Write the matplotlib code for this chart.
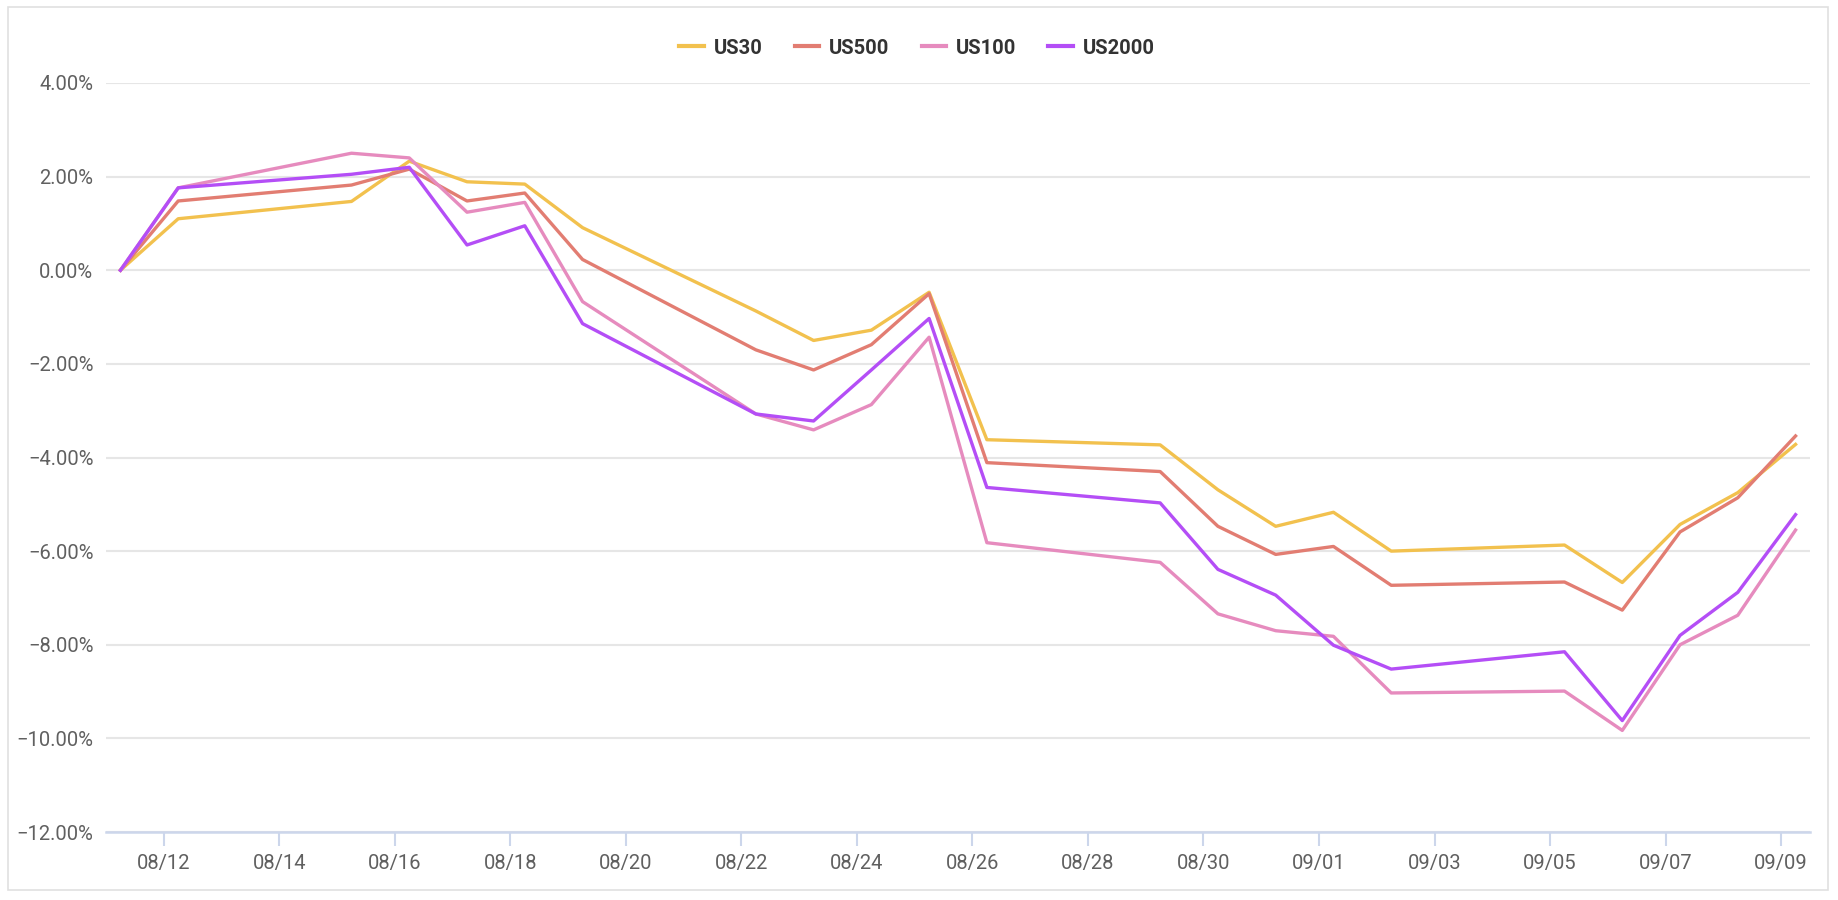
import matplotlib
matplotlib.use("Agg")
import matplotlib.pyplot as plt
import matplotlib.dates as mdates
import matplotlib.ticker as mticker
from matplotlib.patches import Rectangle
import pandas as pd

dates = ["2022-08-11", "2022-08-12", "2022-08-15", "2022-08-16", "2022-08-17", "2022-08-18",
         "2022-08-19", "2022-08-22", "2022-08-23", "2022-08-24", "2022-08-25", "2022-08-26",
         "2022-08-29", "2022-08-30", "2022-08-31", "2022-09-01", "2022-09-02", "2022-09-05",
         "2022-09-06", "2022-09-07", "2022-09-08", "2022-09-09"]

us30 = [0.00, 1.10, 1.47, 2.33, 1.89, 1.84, 0.91, -0.87, -1.50, -1.28, -0.47, -3.62,
        -3.73, -4.69, -5.47, -5.17, -6.00, -5.87, -6.67, -5.43, -4.75, -3.72]
us500 = [0.00, 1.48, 1.82, 2.16, 1.48, 1.65, 0.23, -1.70, -2.13, -1.59, -0.50, -4.11,
         -4.30, -5.47, -6.07, -5.90, -6.73, -6.66, -7.26, -5.59, -4.86, -3.54]
us100 = [0.00, 1.76, 2.50, 2.40, 1.24, 1.45, -0.67, -3.07, -3.41, -2.87, -1.43, -5.82,
         -6.24, -7.34, -7.70, -7.82, -9.03, -8.99, -9.83, -8.00, -7.37, -5.55]
us2000 = [0.00, 1.76, 2.05, 2.20, 0.54, 0.95, -1.14, -3.07, -3.22, -2.13, -1.03, -4.64,
          -4.97, -6.39, -6.94, -8.01, -8.52, -8.15, -9.62, -7.80, -6.88, -5.22]

series_names = ["US30", "US500", "US100", "US2000"]
series_values = [us30, us500, us100, us2000]
colors = ["#f2c14e", "#e27d72", "#e68bbe", "#b44ef6"]

y_ticks = [4, 2, 0, -2, -4, -6, -8, -10, -12]

x = pd.to_datetime(dates) + pd.Timedelta(hours=6)

plt.rcParams["font.family"] = ["Roboto", "DejaVu Sans"]

fig = plt.figure(figsize=(18.38, 9.0), dpi=100)
ax = fig.add_axes([106 / 1838, 1 - 832 / 900, (1810 - 106) / 1838, (832 - 83) / 900])

for name, vals, c in zip(series_names, series_values, colors):
    ax.plot(x, vals, color=c, lw=2.4, label=name, solid_joinstyle="round", zorder=3)

ax.set_ylim(-12, 4)
ax.set_xlim(pd.Timestamp("2022-08-11 00:00"), pd.Timestamp("2022-09-09 12:00"))
ax.set_yticks(y_ticks)
ax.yaxis.set_major_formatter(mticker.FuncFormatter(lambda v, p: f"{v:.2f}%".replace("-", "\u2212")))
ax.xaxis.set_major_locator(mdates.DayLocator(bymonthday=[12, 14, 16, 18, 20, 22, 24, 26, 28, 30, 1, 3, 5, 7, 9]))
ax.xaxis.set_major_formatter(mdates.DateFormatter("%m/%d"))

ax.grid(axis="y", color="#e6e6e6", lw=1.5, zorder=0)
ax.grid(axis="x", visible=False)
for s in ["top", "right", "left"]:
    ax.spines[s].set_visible(False)
ax.spines["bottom"].set_color("#ccd6eb")
ax.spines["bottom"].set_linewidth(1.8)
ax.spines["bottom"].set_zorder(4)

ax.tick_params(axis="y", length=0, pad=9, labelsize=14.5, labelcolor="#606060")
ax.tick_params(axis="x", length=10, width=1.5, color="#ccd6eb", pad=6,
               labelsize=14.5, labelcolor="#606060")

leg = fig.legend(loc="center", bbox_to_anchor=(917 / 1838, 1 - 48 / 900), ncol=4,
                 frameon=False, handlelength=1.2, handletextpad=0.5, columnspacing=1.6,
                 prop={"weight": "bold", "size": 14.5})
for t in leg.get_texts():
    t.set_color("#333333")
for h in leg.legend_handles:
    h.set_linewidth(3)

fig.patches.append(Rectangle((8 / 1838, 1 - 890 / 900), 1820 / 1838, 883 / 900,
                             transform=fig.transFigure, fill=False,
                             edgecolor="#e0e0e0", lw=1.2))

fig.savefig("out.png", dpi=100, facecolor="white")
